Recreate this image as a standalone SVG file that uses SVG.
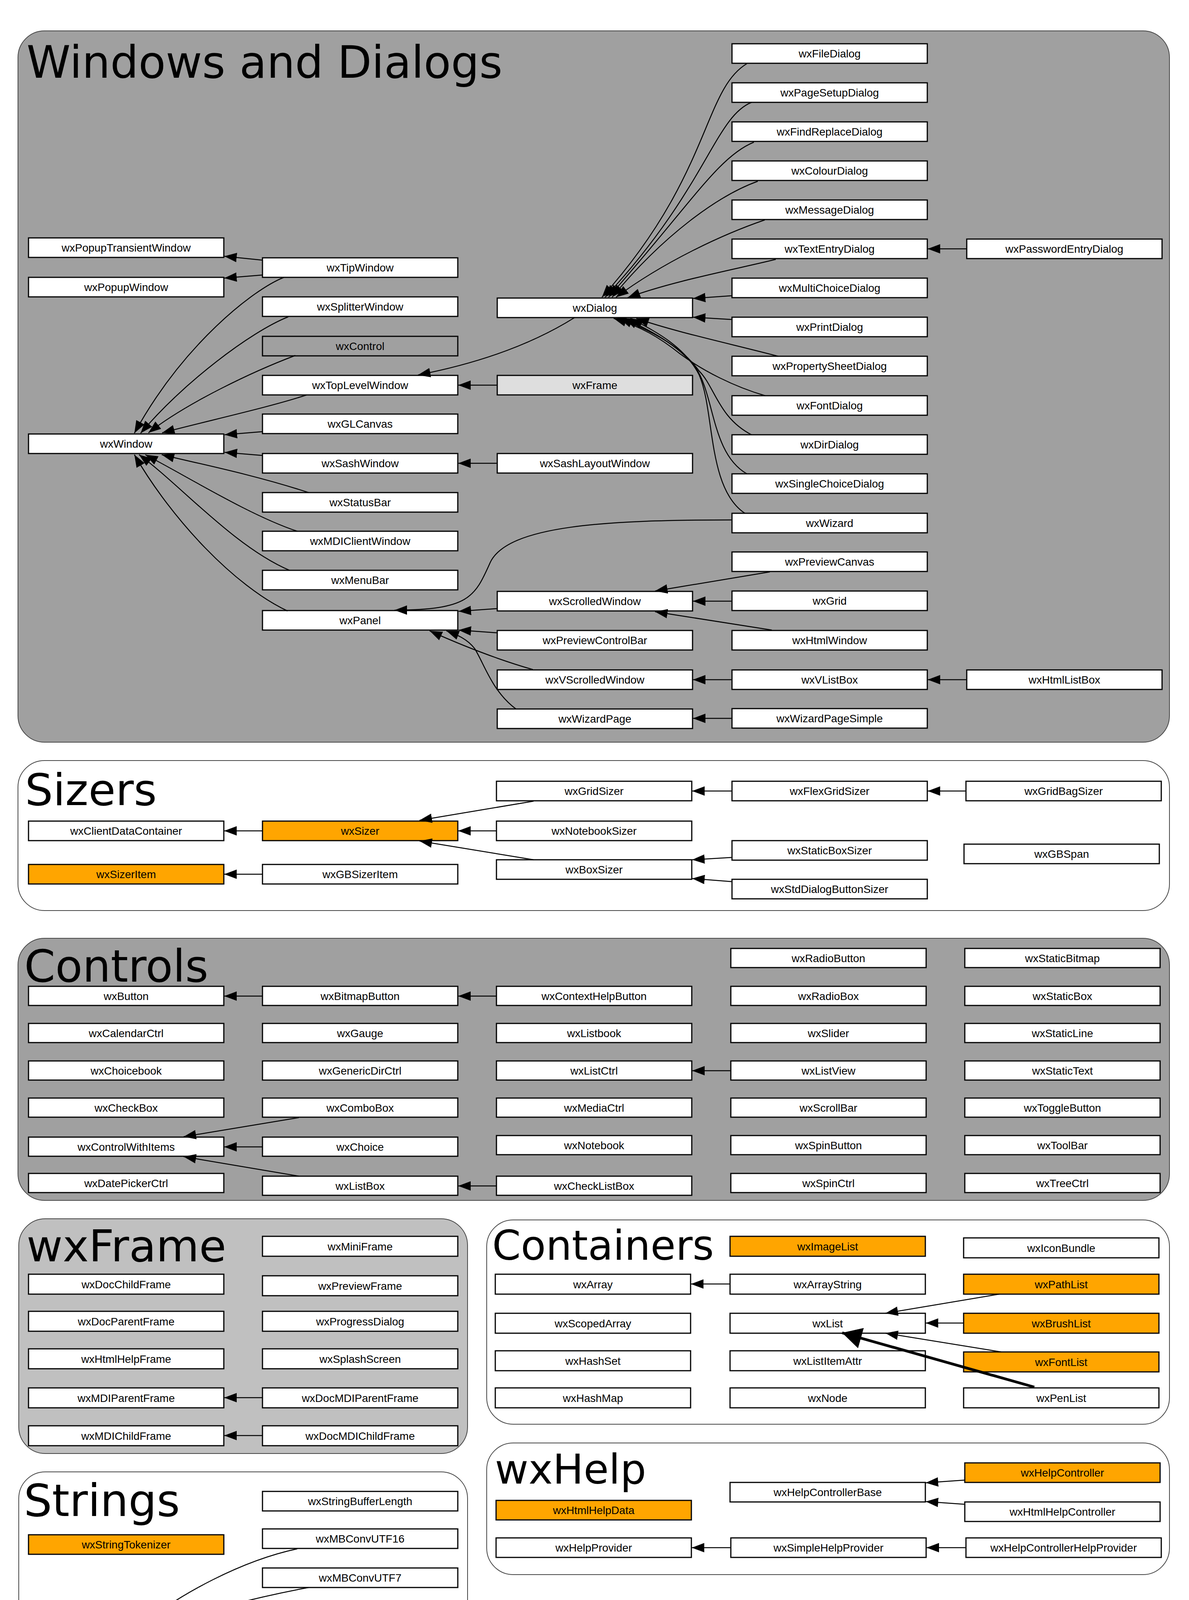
<svg xmlns="http://www.w3.org/2000/svg" width="3044" height="5567" viewBox="0 0 3044 5567">
<style>
.cl{stroke:#474747;stroke-width:2}
.cg{fill:#a0a0a0}.cl2{fill:#c0c0c0}.cw{fill:#fff}
.t{font-family:"DejaVu Sans",Verdana,sans-serif;fill:#000}
.n rect{fill:#fff;stroke:#000;stroke-width:3}
.n text{font-family:"Liberation Sans",Arial,sans-serif;font-size:28px;text-anchor:middle;fill:#000}
.n.o rect{fill:#ffa500}
.n.gr rect{fill:#a0a0a0}
.n.lg rect{fill:#dedede}
.e{fill:none;stroke:#000;stroke-width:2.5;marker-end:url(#a)}
.es{fill:none;stroke:#000;stroke-width:2.5;marker-end:url(#s)}
.eb{fill:none;stroke:#000;stroke-width:7;marker-end:url(#b)}
.ep{fill:none;stroke:#000;stroke-width:2.5}
</style>
<defs>
<marker id="a" markerUnits="userSpaceOnUse" markerWidth="32" markerHeight="24" refX="32" refY="12" orient="auto"><path d="M0,0 L32,12 L0,24 z" fill="#000"/></marker>
<marker id="s" markerUnits="userSpaceOnUse" markerWidth="18" markerHeight="20" refX="18" refY="10" orient="auto"><path d="M0,0 L18,10 L0,20 z" fill="#000"/></marker>
<marker id="b" markerUnits="userSpaceOnUse" markerWidth="50" markerHeight="54" refX="50" refY="27" orient="auto"><path d="M0,0 L50,27 L0,54 z" fill="#000"/></marker>
</defs>
<rect width="3044" height="5567" fill="#fff"/>
<g id="clusters">
<rect class="cl cg" x="46" y="79" width="2948" height="1821" rx="68"/>
<text class="t" x="68" y="199" font-size="114">Windows and Dialogs</text>
<rect class="cl cw" x="46" y="1947" width="2948" height="384" rx="68"/>
<text class="t" x="64" y="2061" font-size="113">Sizers</text>
<rect class="cl cg" x="46" y="2402" width="2948" height="671" rx="68"/>
<text class="t" x="62" y="2513" font-size="114">Controls</text>
<rect class="cl cl2" x="48" y="3120" width="1149" height="601" rx="68"/>
<text class="t" x="68" y="3229" font-size="113">wxFrame</text>
<rect class="cl cw" x="48" y="3768" width="1149" height="719" rx="68"/>
<text class="t" x="61" y="3881" font-size="114">Strings</text>
<rect class="cl cw" x="1246" y="3123" width="1748" height="523" rx="68"/>
<text class="t" x="1260" y="3225" font-size="105">Containers</text>
<rect class="cl cw" x="1246" y="3694" width="1748" height="337" rx="68"/>
<text class="t" x="1267" y="3798" font-size="105">wxHelp</text>
<rect class="cl cw" x="1246" y="4103" width="1748" height="430" rx="68"/>
<text class="t" x="1267" y="4210" font-size="113">wxDC</text>
<rect class="cl cw" x="48" y="4534" width="1149" height="480" rx="68"/>
<text class="t" x="66" y="4636" font-size="105">Threading</text>
<rect class="cl cw" x="1246" y="4605" width="1748" height="409" rx="68"/>
<text class="t" x="1256" y="4711" font-size="114">Filesystem</text>
<rect class="cl cw" x="48" y="5061" width="1149" height="480" rx="68"/>
<text class="t" x="71" y="5163" font-size="104">wxLog</text>
<rect class="cl cw" x="1246" y="5061" width="1149" height="480" rx="68"/>
<text class="t" x="1271" y="5163" font-size="105">Archive</text>
<rect class="cl cw" x="2444" y="5061" width="550" height="484" rx="68"/>
<text class="t" x="2452" y="5163" font-size="105">DateTime</text>
</g>
<g id="nodes">
<g id="wxPopupTransientWindow" class="n"><rect x="73" y="609" width="500" height="50"/><text x="323" y="644">wxPopupTransientWindow</text></g>
<g id="wxPopupWindow" class="n"><rect x="73" y="710" width="500" height="50"/><text x="323" y="745">wxPopupWindow</text></g>
<g id="wxWindow" class="n"><rect x="73" y="1111" width="500" height="50"/><text x="323" y="1146">wxWindow</text></g>
<g id="wxTipWindow" class="n"><rect x="672" y="660" width="500" height="50"/><text x="922" y="695">wxTipWindow</text></g>
<g id="wxSplitterWindow" class="n"><rect x="672" y="760" width="500" height="50"/><text x="922" y="795">wxSplitterWindow</text></g>
<g id="wxControl" class="n gr"><rect x="672" y="861" width="500" height="50"/><text x="922" y="896">wxControl</text></g>
<g id="wxTopLevelWindow" class="n"><rect x="672" y="961" width="500" height="50"/><text x="922" y="996">wxTopLevelWindow</text></g>
<g id="wxGLCanvas" class="n"><rect x="672" y="1060" width="500" height="50"/><text x="922" y="1095">wxGLCanvas</text></g>
<g id="wxSashWindow" class="n"><rect x="672" y="1161" width="500" height="50"/><text x="922" y="1196">wxSashWindow</text></g>
<g id="wxStatusBar" class="n"><rect x="672" y="1261" width="500" height="50"/><text x="922" y="1296">wxStatusBar</text></g>
<g id="wxMDIClientWindow" class="n"><rect x="672" y="1360" width="500" height="50"/><text x="922" y="1395">wxMDIClientWindow</text></g>
<g id="wxMenuBar" class="n"><rect x="672" y="1460" width="500" height="50"/><text x="922" y="1495">wxMenuBar</text></g>
<g id="wxPanel" class="n"><rect x="672" y="1563" width="500" height="50"/><text x="922" y="1598">wxPanel</text></g>
<g id="wxDialog" class="n"><rect x="1273" y="763" width="500" height="50"/><text x="1523" y="798">wxDialog</text></g>
<g id="wxFrame" class="n lg"><rect x="1273" y="961" width="500" height="50"/><text x="1523" y="996">wxFrame</text></g>
<g id="wxSashLayoutWindow" class="n"><rect x="1273" y="1161" width="500" height="50"/><text x="1523" y="1196">wxSashLayoutWindow</text></g>
<g id="wxScrolledWindow" class="n"><rect x="1273" y="1514" width="500" height="50"/><text x="1523" y="1549">wxScrolledWindow</text></g>
<g id="wxPreviewControlBar" class="n"><rect x="1273" y="1614" width="500" height="50"/><text x="1523" y="1649">wxPreviewControlBar</text></g>
<g id="wxVScrolledWindow" class="n"><rect x="1273" y="1715" width="500" height="50"/><text x="1523" y="1750">wxVScrolledWindow</text></g>
<g id="wxWizardPage" class="n"><rect x="1273" y="1815" width="500" height="50"/><text x="1523" y="1850">wxWizardPage</text></g>
<g id="wxFileDialog" class="n"><rect x="1874" y="112" width="500" height="50"/><text x="2124" y="147">wxFileDialog</text></g>
<g id="wxPageSetupDialog" class="n"><rect x="1874" y="212" width="500" height="50"/><text x="2124" y="247">wxPageSetupDialog</text></g>
<g id="wxFindReplaceDialog" class="n"><rect x="1874" y="312" width="500" height="50"/><text x="2124" y="347">wxFindReplaceDialog</text></g>
<g id="wxColourDialog" class="n"><rect x="1874" y="412" width="500" height="50"/><text x="2124" y="447">wxColourDialog</text></g>
<g id="wxMessageDialog" class="n"><rect x="1874" y="512" width="500" height="50"/><text x="2124" y="547">wxMessageDialog</text></g>
<g id="wxTextEntryDialog" class="n"><rect x="1874" y="612" width="500" height="50"/><text x="2124" y="647">wxTextEntryDialog</text></g>
<g id="wxMultiChoiceDialog" class="n"><rect x="1874" y="712" width="500" height="50"/><text x="2124" y="747">wxMultiChoiceDialog</text></g>
<g id="wxPrintDialog" class="n"><rect x="1874" y="812" width="500" height="50"/><text x="2124" y="847">wxPrintDialog</text></g>
<g id="wxPropertySheetDialog" class="n"><rect x="1874" y="912" width="500" height="50"/><text x="2124" y="947">wxPropertySheetDialog</text></g>
<g id="wxFontDialog" class="n"><rect x="1874" y="1013" width="500" height="50"/><text x="2124" y="1048">wxFontDialog</text></g>
<g id="wxDirDialog" class="n"><rect x="1874" y="1113" width="500" height="50"/><text x="2124" y="1148">wxDirDialog</text></g>
<g id="wxSingleChoiceDialog" class="n"><rect x="1874" y="1213" width="500" height="50"/><text x="2124" y="1248">wxSingleChoiceDialog</text></g>
<g id="wxWizard" class="n"><rect x="1874" y="1314" width="500" height="50"/><text x="2124" y="1349">wxWizard</text></g>
<g id="wxPreviewCanvas" class="n"><rect x="1874" y="1413" width="500" height="50"/><text x="2124" y="1448">wxPreviewCanvas</text></g>
<g id="wxGrid" class="n"><rect x="1874" y="1513" width="500" height="50"/><text x="2124" y="1548">wxGrid</text></g>
<g id="wxHtmlWindow" class="n"><rect x="1874" y="1614" width="500" height="50"/><text x="2124" y="1649">wxHtmlWindow</text></g>
<g id="wxVListBox" class="n"><rect x="1874" y="1715" width="500" height="50"/><text x="2124" y="1750">wxVListBox</text></g>
<g id="wxWizardPageSimple" class="n"><rect x="1874" y="1814" width="500" height="50"/><text x="2124" y="1849">wxWizardPageSimple</text></g>
<g id="wxPasswordEntryDialog" class="n"><rect x="2475" y="612" width="500" height="50"/><text x="2725" y="647">wxPasswordEntryDialog</text></g>
<g id="wxHtmlListBox" class="n"><rect x="2475" y="1715" width="500" height="50"/><text x="2725" y="1750">wxHtmlListBox</text></g>

<g id="wxClientDataContainer" class="n"><rect x="73" y="2102" width="500" height="50"/><text x="323" y="2137">wxClientDataContainer</text></g>
<g id="wxSizer" class="n o"><rect x="672" y="2102" width="500" height="50"/><text x="922" y="2137">wxSizer</text></g>
<g id="wxSizerItem" class="n o"><rect x="73" y="2213" width="500" height="50"/><text x="323" y="2248">wxSizerItem</text></g>
<g id="wxGBSizerItem" class="n"><rect x="672" y="2213" width="500" height="50"/><text x="922" y="2248">wxGBSizerItem</text></g>
<g id="wxGridSizer" class="n"><rect x="1271" y="2000" width="500" height="50"/><text x="1521" y="2035">wxGridSizer</text></g>
<g id="wxNotebookSizer" class="n"><rect x="1271" y="2102" width="500" height="50"/><text x="1521" y="2137">wxNotebookSizer</text></g>
<g id="wxBoxSizer" class="n"><rect x="1271" y="2201" width="500" height="50"/><text x="1521" y="2236">wxBoxSizer</text></g>
<g id="wxFlexGridSizer" class="n"><rect x="1874" y="2000" width="500" height="50"/><text x="2124" y="2035">wxFlexGridSizer</text></g>
<g id="wxStaticBoxSizer" class="n"><rect x="1874" y="2152" width="500" height="50"/><text x="2124" y="2187">wxStaticBoxSizer</text></g>
<g id="wxStdDialogButtonSizer" class="n"><rect x="1874" y="2251" width="500" height="50"/><text x="2124" y="2286">wxStdDialogButtonSizer</text></g>
<g id="wxGridBagSizer" class="n"><rect x="2473" y="2000" width="500" height="50"/><text x="2723" y="2035">wxGridBagSizer</text></g>
<g id="wxGBSpan" class="n"><rect x="2468" y="2161" width="500" height="50"/><text x="2718" y="2196">wxGBSpan</text></g>

<g id="wxButton" class="n"><rect x="73" y="2525" width="500" height="49"/><text x="323" y="2560">wxButton</text></g>
<g id="wxCalendarCtrl" class="n"><rect x="73" y="2620" width="500" height="49"/><text x="323" y="2655">wxCalendarCtrl</text></g>
<g id="wxChoicebook" class="n"><rect x="73" y="2716" width="500" height="49"/><text x="323" y="2751">wxChoicebook</text></g>
<g id="wxCheckBox" class="n"><rect x="73" y="2811" width="500" height="49"/><text x="323" y="2846">wxCheckBox</text></g>
<g id="wxControlWithItems" class="n"><rect x="73" y="2911" width="500" height="49"/><text x="323" y="2946">wxControlWithItems</text></g>
<g id="wxDatePickerCtrl" class="n"><rect x="73" y="3004" width="500" height="49"/><text x="323" y="3039">wxDatePickerCtrl</text></g>
<g id="wxBitmapButton" class="n"><rect x="672" y="2525" width="500" height="49"/><text x="922" y="2560">wxBitmapButton</text></g>
<g id="wxGauge" class="n"><rect x="672" y="2620" width="500" height="49"/><text x="922" y="2655">wxGauge</text></g>
<g id="wxGenericDirCtrl" class="n"><rect x="672" y="2716" width="500" height="49"/><text x="922" y="2751">wxGenericDirCtrl</text></g>
<g id="wxComboBox" class="n"><rect x="672" y="2811" width="500" height="49"/><text x="922" y="2846">wxComboBox</text></g>
<g id="wxChoice" class="n"><rect x="672" y="2911" width="500" height="49"/><text x="922" y="2946">wxChoice</text></g>
<g id="wxListBox" class="n"><rect x="672" y="3011" width="500" height="49"/><text x="922" y="3046">wxListBox</text></g>
<g id="wxContextHelpButton" class="n"><rect x="1271" y="2525" width="500" height="49"/><text x="1521" y="2560">wxContextHelpButton</text></g>
<g id="wxListbook" class="n"><rect x="1271" y="2620" width="500" height="49"/><text x="1521" y="2655">wxListbook</text></g>
<g id="wxListCtrl" class="n"><rect x="1271" y="2716" width="500" height="49"/><text x="1521" y="2751">wxListCtrl</text></g>
<g id="wxMediaCtrl" class="n"><rect x="1271" y="2811" width="500" height="49"/><text x="1521" y="2846">wxMediaCtrl</text></g>
<g id="wxNotebook" class="n"><rect x="1271" y="2907" width="500" height="49"/><text x="1521" y="2942">wxNotebook</text></g>
<g id="wxCheckListBox" class="n"><rect x="1271" y="3011" width="500" height="49"/><text x="1521" y="3046">wxCheckListBox</text></g>
<g id="wxRadioButton" class="n"><rect x="1871" y="2428" width="500" height="49"/><text x="2121" y="2463">wxRadioButton</text></g>
<g id="wxRadioBox" class="n"><rect x="1871" y="2525" width="500" height="49"/><text x="2121" y="2560">wxRadioBox</text></g>
<g id="wxSlider" class="n"><rect x="1871" y="2620" width="500" height="49"/><text x="2121" y="2655">wxSlider</text></g>
<g id="wxListView" class="n"><rect x="1871" y="2716" width="500" height="49"/><text x="2121" y="2751">wxListView</text></g>
<g id="wxScrollBar" class="n"><rect x="1871" y="2811" width="500" height="49"/><text x="2121" y="2846">wxScrollBar</text></g>
<g id="wxSpinButton" class="n"><rect x="1871" y="2907" width="500" height="49"/><text x="2121" y="2942">wxSpinButton</text></g>
<g id="wxSpinCtrl" class="n"><rect x="1871" y="3004" width="500" height="49"/><text x="2121" y="3039">wxSpinCtrl</text></g>
<g id="wxStaticBitmap" class="n"><rect x="2470" y="2428" width="500" height="49"/><text x="2720" y="2463">wxStaticBitmap</text></g>
<g id="wxStaticBox" class="n"><rect x="2470" y="2525" width="500" height="49"/><text x="2720" y="2560">wxStaticBox</text></g>
<g id="wxStaticLine" class="n"><rect x="2470" y="2620" width="500" height="49"/><text x="2720" y="2655">wxStaticLine</text></g>
<g id="wxStaticText" class="n"><rect x="2470" y="2716" width="500" height="49"/><text x="2720" y="2751">wxStaticText</text></g>
<g id="wxToggleButton" class="n"><rect x="2470" y="2811" width="500" height="49"/><text x="2720" y="2846">wxToggleButton</text></g>
<g id="wxToolBar" class="n"><rect x="2470" y="2907" width="500" height="49"/><text x="2720" y="2942">wxToolBar</text></g>
<g id="wxTreeCtrl" class="n"><rect x="2470" y="3004" width="500" height="49"/><text x="2720" y="3039">wxTreeCtrl</text></g>

<g id="wxMiniFrame" class="n"><rect x="672" y="3165" width="500" height="51"/><text x="922" y="3201">wxMiniFrame</text></g>
<g id="wxDocChildFrame" class="n"><rect x="73" y="3262" width="500" height="51"/><text x="323" y="3298">wxDocChildFrame</text></g>
<g id="wxPreviewFrame" class="n"><rect x="672" y="3266" width="500" height="51"/><text x="922" y="3302">wxPreviewFrame</text></g>
<g id="wxDocParentFrame" class="n"><rect x="73" y="3357" width="500" height="51"/><text x="323" y="3393">wxDocParentFrame</text></g>
<g id="wxProgressDialog" class="n"><rect x="672" y="3357" width="500" height="51"/><text x="922" y="3393">wxProgressDialog</text></g>
<g id="wxHtmlHelpFrame" class="n"><rect x="73" y="3453" width="500" height="51"/><text x="323" y="3489">wxHtmlHelpFrame</text></g>
<g id="wxSplashScreen" class="n"><rect x="672" y="3453" width="500" height="51"/><text x="922" y="3489">wxSplashScreen</text></g>
<g id="wxMDIParentFrame" class="n"><rect x="73" y="3553" width="500" height="51"/><text x="323" y="3589">wxMDIParentFrame</text></g>
<g id="wxDocMDIParentFrame" class="n"><rect x="672" y="3553" width="500" height="51"/><text x="922" y="3589">wxDocMDIParentFrame</text></g>
<g id="wxMDIChildFrame" class="n"><rect x="73" y="3650" width="500" height="51"/><text x="323" y="3686">wxMDIChildFrame</text></g>
<g id="wxDocMDIChildFrame" class="n"><rect x="672" y="3650" width="500" height="51"/><text x="922" y="3686">wxDocMDIChildFrame</text></g>

<g id="wxStringBufferLength" class="n"><rect x="672" y="3818" width="500" height="50"/><text x="922" y="3853">wxStringBufferLength</text></g>
<g id="wxStringTokenizer" class="n o"><rect x="73" y="3929" width="500" height="50"/><text x="323" y="3964">wxStringTokenizer</text></g>
<g id="wxMBConvUTF16" class="n"><rect x="672" y="3914" width="500" height="50"/><text x="922" y="3949">wxMBConvUTF16</text></g>
<g id="wxMBConvUTF7" class="n"><rect x="672" y="4014" width="500" height="50"/><text x="922" y="4049">wxMBConvUTF7</text></g>
<g id="wxMBConvUTF8" class="n"><rect x="672" y="4113" width="500" height="50"/><text x="922" y="4148">wxMBConvUTF8</text></g>
<g id="wxMBConv" class="n"><rect x="73" y="4163" width="500" height="50"/><text x="323" y="4198">wxMBConv</text></g>
<g id="wxMBConvFile" class="n"><rect x="672" y="4213" width="500" height="50"/><text x="922" y="4248">wxMBConvFile</text></g>
<g id="wxCSConv" class="n"><rect x="672" y="4313" width="500" height="50"/><text x="922" y="4348">wxCSConv</text></g>
<g id="wxEncodingConverter" class="n o"><rect x="73" y="4321" width="500" height="50"/><text x="323" y="4356">wxEncodingConverter</text></g>
<g id="wxMBConvUTF32" class="n"><rect x="672" y="4413" width="500" height="50"/><text x="922" y="4448">wxMBConvUTF32</text></g>
<g id="wxFontMapper" class="n"><rect x="73" y="4417" width="500" height="50"/><text x="323" y="4452">wxFontMapper</text></g>

<g id="wxImageList" class="n o"><rect x="1869" y="3165" width="500" height="51"/><text x="2119" y="3201">wxImageList</text></g>
<g id="wxIconBundle" class="n"><rect x="2467" y="3169" width="500" height="51"/><text x="2717" y="3205">wxIconBundle</text></g>
<g id="wxArray" class="n"><rect x="1268" y="3262" width="500" height="51"/><text x="1518" y="3298">wxArray</text></g>
<g id="wxArrayString" class="n"><rect x="1869" y="3262" width="500" height="51"/><text x="2119" y="3298">wxArrayString</text></g>
<g id="wxPathList" class="n o"><rect x="2467" y="3262" width="500" height="51"/><text x="2717" y="3298">wxPathList</text></g>
<g id="wxScopedArray" class="n"><rect x="1268" y="3362" width="500" height="51"/><text x="1518" y="3398">wxScopedArray</text></g>
<g id="wxList" class="n"><rect x="1869" y="3362" width="500" height="51"/><text x="2119" y="3398">wxList</text></g>
<g id="wxBrushList" class="n o"><rect x="2467" y="3362" width="500" height="51"/><text x="2717" y="3398">wxBrushList</text></g>
<g id="wxHashSet" class="n"><rect x="1268" y="3458" width="500" height="51"/><text x="1518" y="3494">wxHashSet</text></g>
<g id="wxListItemAttr" class="n"><rect x="1869" y="3458" width="500" height="51"/><text x="2119" y="3494">wxListItemAttr</text></g>
<g id="wxFontList" class="n o"><rect x="2467" y="3461" width="500" height="51"/><text x="2717" y="3497">wxFontList</text></g>
<g id="wxHashMap" class="n"><rect x="1268" y="3553" width="500" height="51"/><text x="1518" y="3589">wxHashMap</text></g>
<g id="wxNode" class="n"><rect x="1869" y="3553" width="500" height="51"/><text x="2119" y="3589">wxNode</text></g>
<g id="wxPenList" class="n"><rect x="2467" y="3553" width="500" height="51"/><text x="2717" y="3589">wxPenList</text></g>

<g id="wxHelpController" class="n o"><rect x="2470" y="3745" width="500" height="50"/><text x="2720" y="3780">wxHelpController</text></g>
<g id="wxHelpControllerBase" class="n"><rect x="1869" y="3795" width="500" height="50"/><text x="2119" y="3830">wxHelpControllerBase</text></g>
<g id="wxHtmlHelpData" class="n o"><rect x="1270" y="3841" width="500" height="50"/><text x="1520" y="3876">wxHtmlHelpData</text></g>
<g id="wxHtmlHelpController" class="n"><rect x="2470" y="3845" width="500" height="50"/><text x="2720" y="3880">wxHtmlHelpController</text></g>
<g id="wxHelpProvider" class="n"><rect x="1270" y="3937" width="500" height="50"/><text x="1520" y="3972">wxHelpProvider</text></g>
<g id="wxSimpleHelpProvider" class="n"><rect x="1871" y="3937" width="500" height="50"/><text x="2121" y="3972">wxSimpleHelpProvider</text></g>
<g id="wxHelpControllerHelpProvider" class="n"><rect x="2473" y="3937" width="500" height="50"/><text x="2723" y="3972">wxHelpControllerHelpProvider</text></g>

<g id="wxBufferedPaintDC" class="n"><rect x="1869" y="4175" width="500" height="51"/><text x="2119" y="4211">wxBufferedPaintDC</text></g>
<g id="wxScreenDC" class="n"><rect x="2468" y="4175" width="500" height="51"/><text x="2718" y="4211">wxScreenDC</text></g>
<g id="wxMemoryDC" class="n"><rect x="1270" y="4251" width="500" height="51"/><text x="1520" y="4287">wxMemoryDC</text></g>
<g id="wxBufferedDC" class="n"><rect x="1869" y="4276" width="500" height="51"/><text x="2119" y="4312">wxBufferedDC</text></g>
<g id="wxPostScriptDC" class="n"><rect x="2468" y="4272" width="500" height="51"/><text x="2718" y="4308">wxPostScriptDC</text></g>
<g id="wxPaintDC" class="n"><rect x="1869" y="4369" width="500" height="51"/><text x="2119" y="4405">wxPaintDC</text></g>
<g id="wxMetafileDC" class="n"><rect x="2468" y="4369" width="500" height="51"/><text x="2718" y="4405">wxMetafileDC</text></g>
<g id="wxWindowDC" class="n"><rect x="1270" y="4394" width="500" height="51"/><text x="1520" y="4430">wxWindowDC</text></g>
<g id="wxMirrorDC" class="n"><rect x="1270" y="4465" width="500" height="51"/><text x="1520" y="4501">wxMirrorDC</text></g>
<g id="wxClientDC" class="n"><rect x="1869" y="4469" width="500" height="51"/><text x="2119" y="4505">wxClientDC</text></g>
<g id="wxPrinterDC" class="n"><rect x="2468" y="4465" width="500" height="51"/><text x="2718" y="4501">wxPrinterDC</text></g>

<g id="wxMutexLocker" class="n"><rect x="672" y="4560" width="500" height="50"/><text x="922" y="4595">wxMutexLocker</text></g>
<g id="wxCondition" class="n"><rect x="73" y="4657" width="500" height="50"/><text x="323" y="4692">wxCondition</text></g>
<g id="wxSemaphore" class="n"><rect x="672" y="4657" width="500" height="50"/><text x="922" y="4692">wxSemaphore</text></g>
<g id="wxCriticalSection" class="n"><rect x="73" y="4752" width="500" height="50"/><text x="323" y="4787">wxCriticalSection</text></g>
<g id="wxSingleInstanceChecker" class="n"><rect x="672" y="4752" width="500" height="50"/><text x="922" y="4787">wxSingleInstanceChecker</text></g>
<g id="wxCriticalSectionLocker" class="n"><rect x="73" y="4847" width="500" height="50"/><text x="323" y="4882">wxCriticalSectionLocker</text></g>
<g id="wxThread" class="n"><rect x="672" y="4847" width="500" height="50"/><text x="922" y="4882">wxThread</text></g>
<g id="wxMutex" class="n"><rect x="73" y="4944" width="500" height="50"/><text x="323" y="4979">wxMutex</text></g>
<g id="wxThreadHelper" class="n"><rect x="672" y="4944" width="500" height="50"/><text x="922" y="4979">wxThreadHelper</text></g>

<g id="wxFSFile" class="n o"><rect x="1869" y="4650" width="500" height="51"/><text x="2119" y="4686">wxFSFile</text></g>
<g id="wxStandardPaths" class="n"><rect x="2468" y="4655" width="500" height="51"/><text x="2718" y="4691">wxStandardPaths</text></g>
<g id="wxDirTraverser" class="n"><rect x="1270" y="4750" width="500" height="51"/><text x="1520" y="4786">wxDirTraverser</text></g>
<g id="wxFileSystemHandler" class="n o"><rect x="1869" y="4750" width="500" height="51"/><text x="2119" y="4786">wxFileSystemHandler</text></g>
<g id="wxMemoryFSHandler" class="n"><rect x="2468" y="4750" width="500" height="51"/><text x="2718" y="4786">wxMemoryFSHandler</text></g>
<g id="wxFFile" class="n"><rect x="1270" y="4846" width="500" height="51"/><text x="1520" y="4882">wxFFile</text></g>
<g id="wxFileName" class="n"><rect x="1869" y="4846" width="500" height="51"/><text x="2119" y="4882">wxFileName</text></g>
<g id="wxTempFile" class="n"><rect x="2468" y="4846" width="500" height="51"/><text x="2718" y="4882">wxTempFile</text></g>
<g id="wxFile" class="n"><rect x="1270" y="4942" width="500" height="51"/><text x="1520" y="4978">wxFile</text></g>
<g id="wxFileType" class="n"><rect x="1869" y="4942" width="500" height="51"/><text x="2119" y="4978">wxFileType</text></g>
<g id="wxTextFile" class="n"><rect x="2468" y="4942" width="500" height="51"/><text x="2718" y="4978">wxTextFile</text></g>

<g id="wxLogWindow" class="n"><rect x="73" y="5184" width="500" height="51"/><text x="323" y="5220">wxLogWindow</text></g>
<g id="wxLogNull" class="n"><rect x="672" y="5183" width="500" height="51"/><text x="922" y="5219">wxLogNull</text></g>
<g id="wxLogPassThough" class="n"><rect x="73" y="5273" width="500" height="51"/><text x="323" y="5309">wxLogPassThough</text></g>
<g id="wxLogStderr" class="n"><rect x="672" y="5278" width="500" height="51"/><text x="922" y="5314">wxLogStderr</text></g>
<g id="wxLogChain" class="n"><rect x="75" y="5369" width="500" height="51"/><text x="325" y="5405">wxLogChain</text></g>
<g id="wxLogStream" class="n"><rect x="672" y="5374" width="500" height="51"/><text x="922" y="5410">wxLogStream</text></g>
<g id="wxLogGui" class="n"><rect x="73" y="5470" width="500" height="51"/><text x="323" y="5506">wxLogGui</text></g>
<g id="wxLogTextCtrl" class="n"><rect x="672" y="5470" width="500" height="51"/><text x="922" y="5506">wxLogTextCtrl</text></g>

<g id="wxArchiveNotifier" class="n"><rect x="1270" y="5183" width="500" height="51"/><text x="1520" y="5219">wxArchiveNotifier</text></g>
<g id="wxZipNotifier" class="n"><rect x="1871" y="5183" width="500" height="51"/><text x="2121" y="5219">wxZipNotifier</text></g>
<g id="wxArchiveClassFactory" class="n o"><rect x="1270" y="5277" width="500" height="51"/><text x="1520" y="5313">wxArchiveClassFactory</text></g>
<g id="wxZipClassFactory" class="n"><rect x="1871" y="5278" width="500" height="51"/><text x="2121" y="5314">wxZipClassFactory</text></g>
<g id="wxArchiveEntry" class="n o"><rect x="1270" y="5374" width="500" height="51"/><text x="1520" y="5410">wxArchiveEntry</text></g>
<g id="wxZipEntry" class="n"><rect x="1871" y="5374" width="500" height="51"/><text x="2121" y="5410">wxZipEntry</text></g>
<g id="wxArchiveIterator" class="n"><rect x="1270" y="5470" width="500" height="51"/><text x="1520" y="5506">wxArchiveIterator</text></g>

<g id="wxCalendarDateAttr" class="n"><rect x="2468" y="5184" width="500" height="51"/><text x="2718" y="5220">wxCalendarDateAttr</text></g>
<g id="wxDateSpan" class="n"><rect x="2468" y="5279" width="500" height="51"/><text x="2718" y="5315">wxDateSpan</text></g>
<g id="wxDateTimeHolidayAuthority" class="n"><rect x="2468" y="5374" width="500" height="51"/><text x="2718" y="5410">wxDateTimeHolidayAuthority</text></g>
<g id="wxDateTimeWorkDays" class="n"><rect x="2468" y="5470" width="500" height="51"/><text x="2718" y="5506">wxDateTimeWorkDays</text></g>
</g>
<g id="connectors">
<path class="e" d="M672,666 L574,656"/>
<path class="e" d="M672,704 L574,712"/>
<path class="e" d="M727,710 C650,740 470,880 344,1109"/>
<path class="e" d="M738,811 C640,850 470,980 360,1109"/>
<path class="e" d="M756,910 C650,950 480,1030 380,1108"/>
<path class="e" d="M785,1011 C700,1040 520,1080 415,1108"/>
<path class="e" d="M672,1105 L575,1113"/>
<path class="e" d="M672,1166 L575,1158"/>
<path class="e" d="M790,1261 C650,1215 500,1185 414,1164"/>
<path class="e" d="M761,1360 C640,1320 480,1220 372,1164"/>
<path class="e" d="M741,1460 C600,1400 460,1240 356,1164"/>
<path class="e" d="M736,1564 C600,1500 440,1330 344,1164"/>
<path class="e" d="M1471,813 C1380,870 1250,925 1070,960"/>
<path class="e" d="M1273,986 L1173,986"/>
<path class="e" d="M1273,1186 L1173,1186"/>
<path class="e" d="M1874,1331 C1550,1331 1300,1345 1255,1440 C1215,1530 1200,1561 1010,1562"/>
<path class="e" d="M1273,1558 L1174,1565"/>
<path class="e" d="M1273,1620 L1174,1613"/>
<path class="e" d="M1364,1714 C1280,1690 1200,1660 1100,1615"/>
<path class="e" d="M1321,1815 C1260,1770 1240,1700 1215,1660 C1195,1635 1170,1625 1143,1615"/>
<path class="e" d="M1971,1464 L1677,1513"/>
<path class="e" d="M1874,1539 L1774,1539"/>
<path class="e" d="M1976,1613 L1677,1566"/>
<path class="e" d="M1874,1740 L1774,1740"/>
<path class="e" d="M2475,1740 L2375,1740"/>
<path class="e" d="M1874,1839 L1774,1839"/>
<path class="e" d="M2475,637 L2375,637"/>
<path class="e" d="M1912,163 C1800,230 1820,450 1541,761"/>
<path class="e" d="M1924,262 C1830,300 1810,480 1549,761"/>
<path class="e" d="M1930,364 C1840,400 1770,520 1558,761"/>
<path class="e" d="M1940,464 C1840,500 1700,600 1567,761"/>
<path class="e" d="M1958,563 C1850,600 1700,670 1577,761"/>
<path class="e" d="M1986,664 C1880,690 1720,720 1607,762"/>
<path class="e" d="M1874,757 L1774,764"/>
<path class="e" d="M1874,818 L1774,812"/>
<path class="e" d="M1992,912 C1870,880 1730,850 1629,815"/>
<path class="e" d="M1959,1013 C1880,990 1800,950 1740,905 C1690,865 1640,835 1571,815"/>
<path class="e" d="M1924,1113 C1840,1070 1830,990 1790,950 C1740,880 1650,840 1586,815"/>
<path class="e" d="M1912,1213 C1820,1160 1830,1010 1780,940 C1730,875 1640,835 1600,815"/>
<path class="e" d="M1907,1314 C1810,1250 1830,1050 1790,960 C1750,880 1660,840 1614,815"/>

<path class="e" d="M672,2127 L574,2127"/>
<path class="e" d="M672,2238 L574,2238"/>
<path class="e" d="M1366,2051 L1074,2100"/>
<path class="e" d="M1271,2127 L1173,2127"/>
<path class="e" d="M1366,2201 L1074,2153"/>
<path class="e" d="M1874,2025 L1772,2025"/>
<path class="e" d="M2473,2025 L2375,2025"/>
<path class="e" d="M1874,2195 L1772,2201"/>
<path class="e" d="M1874,2257 L1772,2249"/>

<path class="e" d="M672,2550 L574,2550"/>
<path class="e" d="M1271,2550 L1173,2550"/>
<path class="e" d="M1871,2741 L1772,2741"/>
<path class="e" d="M765,2861 L470,2910"/>
<path class="e" d="M672,2936 L574,2936"/>
<path class="e" d="M765,3011 L470,2961"/>
<path class="e" d="M1271,3036 L1173,3036"/>

<path class="e" d="M672,3578 L574,3578"/>
<path class="e" d="M672,3675 L574,3675"/>

<path class="e" d="M761,3965 C620,3995 460,4080 360,4162"/>
<path class="e" d="M790,4064 C650,4090 500,4130 405,4162"/>
<path class="e" d="M672,4157 L574,4165"/>
<path class="e" d="M672,4219 L574,4212"/>
<path class="e" d="M785,4313 C650,4290 500,4250 405,4214"/>
<path class="ep" d="M758,4413 C690,4398 630,4372 574,4344"/>
<path class="e" d="M528,4321 C470,4290 410,4250 360,4214"/>

<path class="e" d="M1869,3287 L1769,3287"/>
<path class="e" d="M2558,3313 L2267,3362"/>
<path class="e" d="M2467,3387 L2370,3387"/>
<path class="e" d="M2563,3461 L2267,3413"/>
<path class="eb" d="M2648,3551 L2156,3412"/>

<path class="e" d="M2470,3789 L2370,3796"/>
<path class="e" d="M2470,3851 L2370,3844"/>
<path class="e" d="M1871,3962 L1771,3962"/>
<path class="e" d="M2473,3962 L2372,3962"/>

<path class="e" d="M1918,4226 L1720,4251"/>
<path class="e" d="M1869,4291 L1771,4286"/>
<path class="e" d="M1869,4406 L1771,4408"/>
<path class="e" d="M1918,4469 L1720,4445"/>

<path class="e" d="M2468,4776 L2370,4776"/>

<path class="es" d="M330,5235 L330,5273"/>
<path class="es" d="M330,5324 L330,5369"/>

<path class="e" d="M1871,5303 L1771,5303"/>
<path class="e" d="M1871,5399 L1771,5399"/>
</g>
</svg>
